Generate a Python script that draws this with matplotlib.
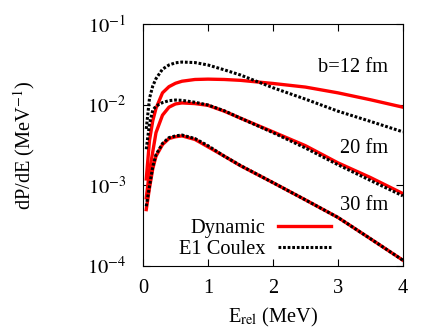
import matplotlib
matplotlib.use("Agg")
import matplotlib.pyplot as plt

# Energy grid (MeV)
e_rel = [0.05, 0.1, 0.15, 0.2, 0.3, 0.4, 0.5, 0.6, 0.8, 1.0, 1.25, 1.5, 2.0, 2.5, 3.0, 3.5, 4.0]

# dP/dE (1/MeV), dynamic calculation
dyn_12 = [0.0012, 0.0036, 0.0063, 0.0090, 0.0140, 0.0167, 0.0184, 0.0195, 0.0205, 0.0207,
          0.0205, 0.0200, 0.0183, 0.0165, 0.0140, 0.0115, 0.0093]
dyn_20 = [0.0007, 0.0015, 0.0026, 0.0045, 0.0074, 0.0093, 0.0102, 0.0105, 0.0103, 0.0098,
          0.0083, 0.0068, 0.0046, 0.0031, 0.0019, 0.00125, 0.00079]
dyn_30 = [0.0005, 0.00093, 0.0016, 0.0023, 0.0032, 0.0038, 0.0040, 0.0041, 0.0037, 0.0030,
          0.0023, 0.00175, 0.00108, 0.00066, 0.00040, 0.000218, 0.000118]

# dP/dE (1/MeV), first-order E1 Coulomb excitation
cx_12 = [0.0050, 0.0120, 0.0170, 0.0210, 0.0275, 0.0310, 0.0330, 0.0337, 0.0332, 0.0310,
         0.0270, 0.0233, 0.0162, 0.0117, 0.0083, 0.0062, 0.0046]
cx_20 = [0.0028, 0.0058, 0.0085, 0.0096, 0.0106, 0.0112, 0.0114, 0.0113, 0.0107, 0.0099,
         0.0084, 0.0068, 0.0045, 0.0029, 0.0018, 0.00115, 0.00074]
cx_30 = [0.00055, 0.00098, 0.0017, 0.0024, 0.0033, 0.0039, 0.0041, 0.0042, 0.0038, 0.0031,
         0.0023, 0.00176, 0.00108, 0.00066, 0.00040, 0.000218, 0.000118]

plt.rcParams["font.family"] = ["Liberation Serif", "DejaVu Serif"]
plt.rcParams["mathtext.fontset"] = "stix"
fs = 14.7

fig = plt.figure(figsize=(4.36, 3.28), dpi=100)
ax = fig.add_axes([0.328, 0.189, 0.596, 0.738])

red = "#ff0000"
ax.plot(e_rel, dyn_12, color=red, lw=2.4, label="Dynamic")
ax.plot(e_rel, dyn_20, color=red, lw=2.4)
ax.plot(e_rel, dyn_30, color=red, lw=2.4)

dots = dict(color="black", lw=2.2, dashes=(0.9, 0.6), dash_capstyle="butt")
ax.plot(e_rel, cx_12, label="E1 Coulex", **dots)
ax.plot(e_rel, cx_20, **dots)
ax.plot(e_rel, cx_30, **dots)

ax.set_yscale("log")
ax.set_xlim(0, 4)
ax.set_ylim(1e-4, 1e-1)
ax.set_xticks([0, 1, 2, 3, 4])
ax.set_yticks([1e-4, 1e-3, 1e-2, 1e-1])
ax.set_yticklabels([r"$10^{-4}$", r"$10^{-3}$", r"$10^{-2}$", r"$10^{-1}$"])
ax.minorticks_off()
ax.tick_params(which="both", direction="in", top=True, right=True, length=5,
               width=0.8, labelsize=fs)
ax.tick_params(axis="x", pad=9)
ax.tick_params(axis="y", pad=12)

ax.set_xlabel(r"E$_{\rm rel}$ (MeV)", fontsize=fs, labelpad=6)
ax.set_ylabel(r"dP/dE (MeV$^{-1}$)", fontsize=fs, labelpad=36)

ax.text(3.77, 0.029, "b=12 fm", ha="right", va="center", fontsize=fs)
ax.text(3.77, 0.0029, "20 fm", ha="right", va="center", fontsize=fs)
ax.text(3.77, 0.00057, "30 fm", ha="right", va="center", fontsize=fs)

ax.legend(loc="lower right", bbox_to_anchor=(0.755, -0.005), frameon=False,
          markerfirst=False, fontsize=fs, handlelength=2.6, handletextpad=0.6,
          labelspacing=0.08, borderaxespad=0)

fig.savefig("out.png", dpi=100)
